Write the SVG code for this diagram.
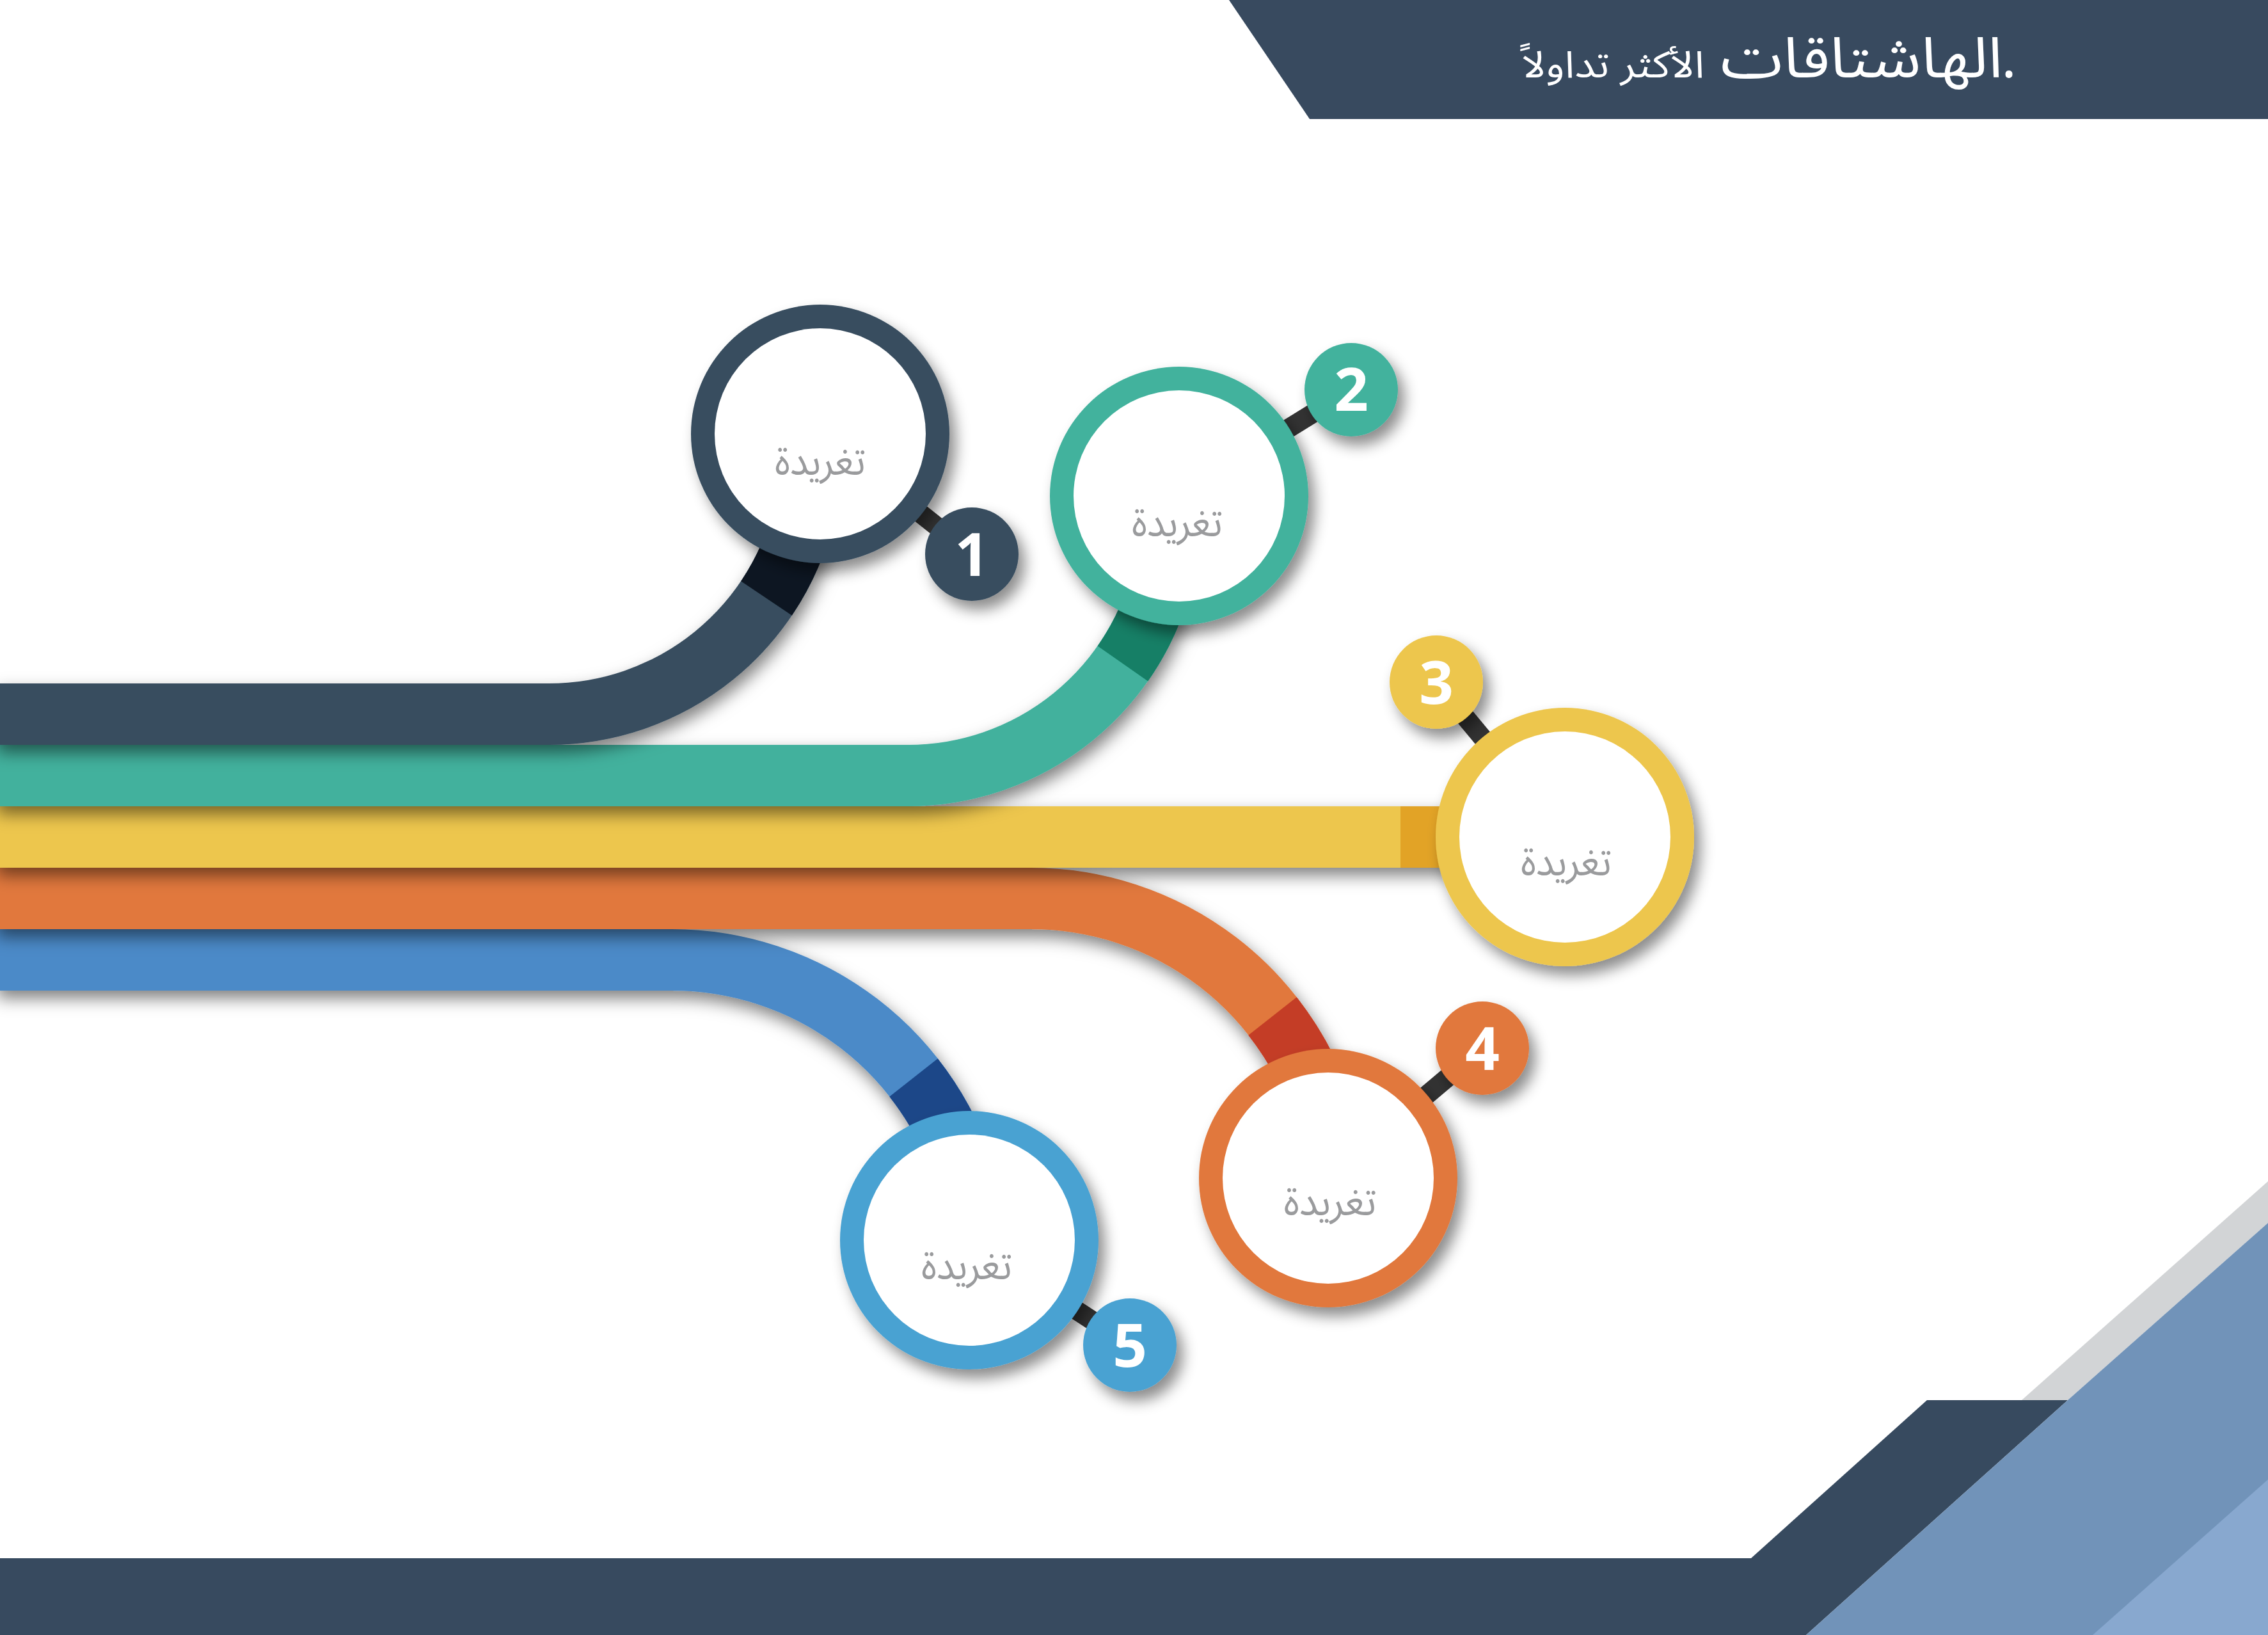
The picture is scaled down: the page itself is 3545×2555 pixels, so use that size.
<svg xmlns="http://www.w3.org/2000/svg" width="3545" height="2555" viewBox="0 0 3545 2555">
<defs>
<style>
.band{fill:none;stroke-width:96;stroke-linecap:butt;stroke-linejoin:round}
.lbl{font-family:'Noto Sans Arabic','DejaVu Sans',sans-serif;font-size:63px;fill:#9a9b9d;text-anchor:middle}
.num{font-family:'Open Sans','Noto Sans',sans-serif;font-weight:700;font-size:94px;fill:#ffffff;text-anchor:middle}
.title{font-family:'Noto Sans Arabic','DejaVu Sans',sans-serif;fill:#ffffff;text-anchor:middle}
.conn{stroke:#333333;stroke-width:30;fill:none}
</style>
<filter id="bsh" filterUnits="userSpaceOnUse" x="-100" y="-100" width="3745" height="2755">
<feDropShadow dx="6" dy="12" stdDeviation="13" flood-color="#000" flood-opacity="0.5"/>
</filter>
<filter id="csh" filterUnits="userSpaceOnUse" x="-100" y="-100" width="3745" height="2755">
<feDropShadow dx="10" dy="14" stdDeviation="11" flood-color="#000" flood-opacity="0.45"/>
</filter>
</defs>
<rect x="0" y="0" width="3545" height="2555" fill="#ffffff"/>

<g id="decor">
<polygon points="1921,0 3545,0 3545,186 2047,186" fill="#384a5f"/>
<polygon points="0,2435 2737,2435 3012,2188 3232,2188 2823,2555 0,2555" fill="#374a5f"/>
<polygon points="3160,2188 3545,1846 3545,1911 3232,2188" fill="#d2d4d6"/>
<polygon points="2823,2555 3232,2188 3545,1911 3545,2555" fill="#7193b9"/>
<polygon points="3271,2555 3545,2312 3545,2555" fill="#88a8cf"/>
</g>

<g id="title">
<text class="title" x="2910" y="121" font-size="88" textLength="441" lengthAdjust="spacingAndGlyphs">الهاشتاقات</text>
<text class="title" x="3140" y="121" font-size="88">.</text>
<text class="title" x="2521" y="121" font-size="58" textLength="286" lengthAdjust="spacingAndGlyphs">الأكثر تداولاً</text>
</g>

<g id="connectors">
<g id="band-5" filter="url(#bsh)">
<path class="band" stroke="#4b8ac8" d="M -10 1500 H 1050 A 480 480 0 0 1 1514 1856"/>
<path class="band" stroke="#1c4788" d="M 1428 1684 A 480 480 0 0 1 1514 1856"/>
</g>
<g id="band-4" filter="url(#bsh)">
<path class="band" stroke="#e1783c" d="M -10 1404 H 1611 A 480 480 0 0 1 2075 1760"/>
<path class="band" stroke="#c43e26" d="M 1989 1588 A 480 480 0 0 1 2075 1760"/>
</g>
<g id="band-3" filter="url(#bsh)">
<path class="band" stroke="#edc64e" d="M -10 1308 H 2446"/>
<path class="band" stroke="#e2a328" d="M 2189 1308 H 2446"/>
</g>
<g id="band-2" filter="url(#bsh)">
<path class="band" stroke="#42b19d" d="M -10 1212 H 1419 A 410 410 0 0 0 1820 887"/>
<path class="band" stroke="#137f66" d="M 1755 1037 A 410 410 0 0 0 1820 887"/>
</g>
<g id="band-1" filter="url(#bsh)">
<path class="band" stroke="#374d5f" d="M -10 1116 H 858 A 410 410 0 0 0 1259 791"/>
<path class="band" stroke="#0f1924" d="M 1198 935 A 410 410 0 0 0 1259 791"/>
</g>
<line class="conn" x1="1282" y1="678" x2="1519" y2="866"/>
<line class="conn" x1="1843" y1="775" x2="2112" y2="609"/>
<line class="conn" x1="2446" y1="1308" x2="2245" y2="1066"/>
<line class="conn" x1="2076" y1="1841" x2="2317" y2="1638"/>
<line class="conn" x1="1515" y1="1938" x2="1766" y2="2102"/>
</g>

<g id="node-1">
<g filter="url(#csh)">
<circle cx="1282" cy="678" r="202" fill="#374d5f"/>
<circle cx="1519" cy="866" r="73" fill="#374d5f"/>
</g>
<circle cx="1282" cy="678" r="165" fill="#ffffff"/>
<text class="lbl" x="1282" y="742" textLength="142" lengthAdjust="spacingAndGlyphs">تغريدة</text>
<text class="num" x="1519" y="900">1</text>
</g>

<g id="node-2">
<g filter="url(#csh)">
<circle cx="1843" cy="775" r="202" fill="#42b29d"/>
<circle cx="2112" cy="609" r="73" fill="#42b29d"/>
</g>
<circle cx="1843" cy="775" r="165" fill="#ffffff"/>
<text class="lbl" x="1840" y="838" textLength="142" lengthAdjust="spacingAndGlyphs">تغريدة</text>
<text class="num" x="2112" y="642">2</text>
</g>

<g id="node-3">
<g filter="url(#csh)">
<circle cx="2446" cy="1308" r="202" fill="#edc64e"/>
<circle cx="2245" cy="1066" r="73" fill="#edc64e"/>
</g>
<circle cx="2446" cy="1308" r="165" fill="#ffffff"/>
<text class="lbl" x="2448" y="1368" textLength="142" lengthAdjust="spacingAndGlyphs">تغريدة</text>
<text class="num" x="2245" y="1100">3</text>
</g>

<g id="node-4">
<g filter="url(#csh)">
<circle cx="2076" cy="1841" r="202" fill="#e1783c"/>
<circle cx="2317" cy="1638" r="73" fill="#e1783c"/>
</g>
<circle cx="2076" cy="1841" r="165" fill="#ffffff"/>
<text class="lbl" x="2079" y="1899" textLength="145" lengthAdjust="spacingAndGlyphs">تغريدة</text>
<text class="num" x="2317" y="1672">4</text>
</g>

<g id="node-5">
<g filter="url(#csh)">
<circle cx="1515" cy="1938" r="202" fill="#4aa2d2"/>
<circle cx="1766" cy="2102" r="73" fill="#4aa2d2"/>
</g>
<circle cx="1515" cy="1938" r="165" fill="#ffffff"/>
<text class="lbl" x="1511" y="1999" textLength="142" lengthAdjust="spacingAndGlyphs">تغريدة</text>
<text class="num" x="1766" y="2136">5</text>
</g>
</svg>
